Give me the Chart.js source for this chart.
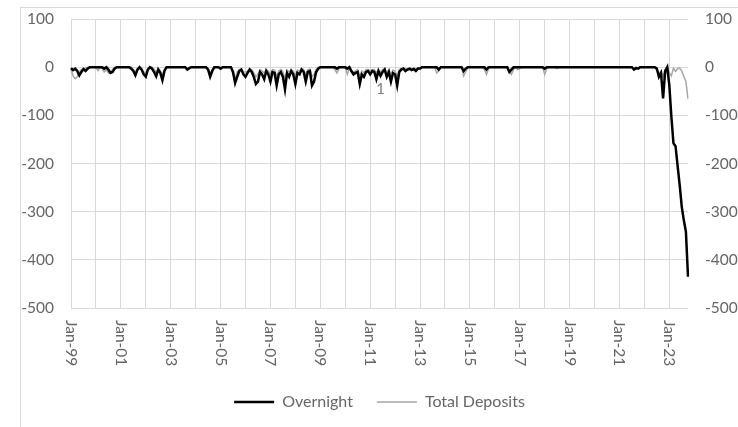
<!DOCTYPE html>
<html>
<head>
<meta charset="utf-8">
<script src="https://cdn.jsdelivr.net/npm/chart.js@4.4.1/dist/chart.umd.min.js"></script>
<style>
  html, body { margin: 0; padding: 0; background: #fff; overflow: hidden; }
  #frame { position: absolute; left: 20px; top: 7px; width: 760px; height: 460px; border: 1px solid #d9d9d9; }
  #wrap { position: absolute; left: 0; top: 0; width: 738px; height: 427px; }
</style>
</head>
<body>
<div id="frame"></div>
<div id="wrap"><canvas id="depositsChart"></canvas></div>
<script>
const months = ['Jan', 'Feb', 'Mar', 'Apr', 'May', 'Jun', 'Jul', 'Aug', 'Sep', 'Oct', 'Nov', 'Dec'];
const years = ['99', '00', '01', '02', '03', '04', '05', '06', '07', '08', '09', '10', '11',
  '12', '13', '14', '15', '16', '17', '18', '19', '20', '21', '22', '23'];
const lastMonthOf2023 = 10; // data runs to Oct-23

const categories = [];
years.forEach((yr, i) => {
  const count = i === years.length - 1 ? lastMonthOf2023 : 12;
  for (let m = 0; m < count; m++) categories.push(months[m] + '-' + yr);
});

const overnight = [
  -2, -6, -3, -8, -17, -10, -4, -8, -3, 0, 0, 0,            // 1999
  0, 0, 0, 0, -3, 0, -5, -12, -10, -3, 0, 0,                // 2000
  0, 0, 0, 0, 0, -3, -8, -17, -5, 0, -5, -15,               // 2001
  -20, -5, 0, -3, -10, -19, -5, -12, -27, -8, 0, 0,         // 2002
  0, 0, 0, 0, 0, 0, 0, 0, -5, -2, 0, 0,                     // 2003
  0, 0, 0, 0, 0, 0, -5, -20, -8, 0, 0, 0,                   // 2004
  -3, 0, 0, 0, 0, 0, -10, -33, -20, -8, -5, -15,            // 2005
  -20, -12, -5, -10, -20, -35, -30, -10, -15, -25, -8, -15, // 2006
  -30, -10, -12, -38, -15, -10, -20, -46, -12, -20, -8, -15,// 2007
  -35, -12, -15, -5, -10, -30, -10, -8, -38, -30, -10, -3,  // 2008
  0, 0, 0, 0, 0, 0, 0, 0, -3, 0, 0, 0,                      // 2009
  0, -3, 0, -8, -15, -12, -10, -35, -15, -20, -10, -8,      // 2010
  -15, -8, -10, -25, -8, -18, -10, -5, -20, -10, -30, -12,  // 2011
  -15, -38, -10, -5, -3, -8, -5, -3, -6, -4, -8, -3,        // 2012
  -3, 0, 0, 0, 0, 0, 0, 0, 0, -5, 0, 0,                     // 2013
  0, 0, 0, 0, 0, 0, 0, 0, 0, -8, -3, 0,                     // 2014
  0, 0, 0, 0, 0, 0, 0, 0, -5, 0, 0, 0,                      // 2015
  0, 0, 0, 0, 0, 0, 0, -10, -5, 0, 0, 0,                    // 2016
  0, 0, 0, 0, 0, 0, 0, 0, 0, 0, 0, 0,                       // 2017
  -3, 0, 0, 0, 0, 0, 0, 0, 0, 0, 0, 0,                      // 2018
  0, 0, 0, 0, 0, 0, 0, 0, 0, 0, 0, 0,                       // 2019
  0, 0, 0, 0, 0, 0, 0, 0, 0, 0, 0, 0,                       // 2020
  0, 0, 0, 0, 0, 0, 0, -5, -2, -3, 0, 0,                    // 2021
  0, 0, 0, 0, 0, 0, -3, -20, -12, -65, -8, 0,               // 2022
  -37, -103, -158, -164, -205, -245, -290, -318, -342, -435 // 2023
];

const totalDeposits = [
  -5, -18, -24, -20, -10, -5, -3, -2, 0, 0, 0, 0,           // 1999
  0, -7, 0, -3, -10, -5, -12, -10, -5, 0, 0, 0,             // 2000
  0, 0, 0, 0, 0, 0, -5, -10, -3, 0, -3, -10,                // 2001
  -12, -3, 0, 0, -5, -10, -3, -8, -15, -5, 0, 0,            // 2002
  0, 0, 0, 0, 0, 0, 0, 0, -3, 0, 0, 0,                      // 2003
  0, 0, 0, 0, 0, 0, -3, -12, -5, 0, 0, 0,                   // 2004
  -2, 0, 0, 0, 0, 0, -15, -25, -10, -5, -3, -10,            // 2005
  -10, -8, -3, -5, -12, -20, -15, -5, -8, -12, -5, -8,      // 2006
  -15, -5, -6, -20, -8, -5, -10, -25, -6, -10, -5, -8,      // 2007
  -18, -6, -8, -3, -5, -15, -5, -4, -20, -15, -5, 0,        // 2008
  0, 0, 0, 0, 0, 0, 0, -5, -12, -3, 0, 0,                   // 2009
  0, -15, -3, -10, -10, -8, -5, -20, -8, -12, -5, -5,       // 2010
  -8, -5, -5, -12, -5, -10, -5, -3, -12, -5, -15, -6,       // 2011
  -8, -20, -5, -3, -2, -4, -3, -2, -3, -2, -4, -2,          // 2012
  -2, 0, 0, 0, 0, 0, 0, 0, -12, -8, 0, 0,                   // 2013
  0, 0, 0, 0, 0, 0, 0, 0, 0, -18, -10, 0,                   // 2014
  0, 0, 0, 0, 0, 0, 0, -5, -15, -3, 0, 0,                   // 2015
  0, 0, 0, 0, 0, 0, 0, -8, -15, -5, 0, -5,                  // 2016
  -3, 0, 0, 0, 0, 0, 0, 0, 0, 0, 0, 0,                      // 2017
  -15, -3, 0, 0, 0, 0, -3, 0, 0, 0, 0, 0,                   // 2018
  0, 0, 0, 0, 0, 0, 0, 0, 0, 0, 0, 0,                       // 2019
  0, 0, 0, 0, 0, 0, 0, 0, 0, 0, 0, 0,                       // 2020
  0, 0, 0, 0, 0, 0, 0, -3, 0, -2, 0, 0,                     // 2021
  0, 0, 0, 0, 0, 0, -5, -15, -8, -20, -5, 0,                // 2022
  -12, -18, -2, -9, -3, -2, -8, -19, -30, -66               // 2023
];

const yTicks = [100, 0, -100, -200, -300, -400, -500];

// stray "1" label sitting under the 2011 wiggles
const noteText = '1';
const noteIndex = 149;
const noteValue = -45;

const textColor = '#666666';
const gridColor = '#d9d9d9';
const clear = 'rgba(0,0,0,0)';
const fontFamily = 'Lato, "Open Sans", sans-serif';

// Excel style vertical category labels, reading top to bottom
const rotatedTicks = {
  id: 'rotatedTicks',
  afterDraw(chart) {
    const { ctx, scales: { x, y } } = chart;
    ctx.save();
    ctx.fillStyle = textColor;
    ctx.font = '15.5px ' + fontFamily;
    ctx.textAlign = 'left';
    ctx.textBaseline = 'middle';
    categories.forEach((label, i) => {
      if (i % 24 !== 0) return;
      ctx.save();
      ctx.translate(x.getPixelForValue(i), x.top + 12);
      ctx.rotate(Math.PI / 2);
      ctx.fillText(label, 0, 0);
      ctx.restore();
    });
    ctx.fillStyle = '#808080';
    ctx.textAlign = 'center';
    ctx.fillText(noteText, x.getPixelForValue(noteIndex), y.getPixelForValue(noteValue));
    ctx.restore();
  }
};

// tick padding would also pad the top of the plot, so the gap comes from an invisible tick mark
const yAxis = (side) => ({
  type: 'linear',
  position: side,
  min: -500,
  max: 100,
  afterBuildTicks: (scale) => { scale.ticks = yTicks.map(v => ({ value: v })); },
  afterFit: (scale) => { scale.width = side === 'left' ? 71 : 50; },
  border: { display: false },
  grid: {
    color: side === 'left' ? gridColor : clear,
    drawTicks: true,
    tickLength: 17,
    tickColor: clear
  },
  ticks: {
    color: textColor,
    font: { family: fontFamily, size: 15.5 },
    padding: 0
  }
});

new Chart(document.getElementById('depositsChart'), {
  type: 'line',
  data: {
    labels: categories,
    datasets: [{
      label: 'Overnight',
      data: overnight,
      borderColor: '#000000',
      backgroundColor: '#000000',
      borderWidth: 2.5,
      pointRadius: 0,
      tension: 0
    }, {
      label: 'Total Deposits',
      data: totalDeposits,
      borderColor: '#a6a6a6',
      backgroundColor: '#a6a6a6',
      borderWidth: 1.5,
      pointRadius: 0,
      tension: 0,
      yAxisID: 'y2'
    }]
  },
  options: {
    responsive: true,
    maintainAspectRatio: false,
    animation: false,
    layout: { padding: { top: 19, right: 0, bottom: 13, left: 0 } },
    scales: {
      x: {
        type: 'category',
        offset: false,
        afterFit: (scale) => { scale.height = 62; },
        border: { display: false },
        grid: {
          offset: false,
          drawTicks: false,
          color: (c) => (c.index % 12 === 0 ? gridColor : clear)
        },
        ticks: { display: false, autoSkip: false }
      },
      y: yAxis('left'),
      y2: yAxis('right')
    },
    plugins: {
      tooltip: { enabled: false },
      legend: {
        position: 'bottom',
        fullSize: false,
        maxHeight: 44,
        labels: {
          color: textColor,
          font: { family: fontFamily, size: 16 },
          usePointStyle: true,
          pointStyle: 'line',
          pointStyleWidth: 40,
          padding: 24
        }
      }
    }
  },
  plugins: [rotatedTicks]
});
</script>
</body>
</html>
